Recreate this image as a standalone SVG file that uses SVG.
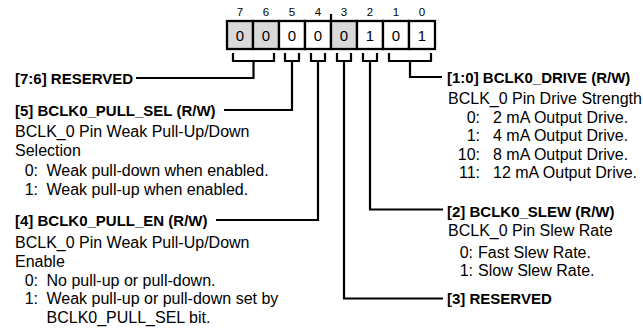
<svg xmlns="http://www.w3.org/2000/svg" width="643" height="332" viewBox="0 0 643 332">
<style>
.bn{font-family:"Liberation Sans",Arial,sans-serif;font-size:11.5px;fill:#000;text-anchor:middle}
.bv{font-family:"Liberation Sans",Arial,sans-serif;font-size:15px;fill:#000;text-anchor:middle}
.h{font-family:"Liberation Sans",Arial,sans-serif;font-size:15px;font-weight:bold;fill:#000}
.t{font-family:"Liberation Sans",Arial,sans-serif;font-size:16px;fill:#000}
.n{font-family:"Liberation Sans",Arial,sans-serif;font-size:16px;fill:#000;text-anchor:end}
.cell{stroke:#000;stroke-width:2.3}
.g{fill:#d9d9d9}
.w{fill:#fff}
.ln{fill:none;stroke:#000;stroke-width:2.2}
</style>
<rect width="643" height="332" fill="#fff"/>
<g id="register">
<text class="bn" x="240" y="15.5">7</text>
<text class="bn" x="266" y="15.5">6</text>
<text class="bn" x="292" y="15.5">5</text>
<text class="bn" x="318" y="15.5">4</text>
<text class="bn" x="344" y="15.5">3</text>
<text class="bn" x="370" y="15.5">2</text>
<text class="bn" x="396" y="15.5">1</text>
<text class="bn" x="422" y="15.5">0</text>
<rect class="cell g" x="227" y="21" width="26" height="28"/>
<rect class="cell g" x="253" y="21" width="26" height="28"/>
<rect class="cell w" x="279" y="21" width="26" height="28"/>
<rect class="cell w" x="305" y="21" width="26" height="28"/>
<rect class="cell g" x="331" y="21" width="26" height="28"/>
<rect class="cell w" x="357" y="21" width="26" height="28"/>
<rect class="cell w" x="383" y="21" width="26" height="28"/>
<rect class="cell w" x="409" y="21" width="26" height="28"/>
<line class="ln" x1="331" y1="14" x2="331" y2="21"/>
<text class="bv" x="240" y="40.5">0</text>
<text class="bv" x="266" y="40.5">0</text>
<text class="bv" x="292" y="40.5">0</text>
<text class="bv" x="318" y="40.5">0</text>
<text class="bv" x="344" y="40.5">0</text>
<text class="bv" x="370" y="40.5">1</text>
<text class="bv" x="396" y="40.5">0</text>
<text class="bv" x="422" y="40.5">1</text>
</g>
<g id="connectors">
<path class="ln" d="M233 53V61H274V53M253.5 61V78H136"/>
<path class="ln" d="M285 53V61H299V53M292 61V110H224"/>
<path class="ln" d="M311 53V61H325V53M318 61V220H216"/>
<path class="ln" d="M337 53V61H351V53M344 61V298.5H443"/>
<path class="ln" d="M363 53V61H377V53M370 61V209.5H443"/>
<path class="ln" d="M389 53V61H431V53M410 61V77H442"/>
</g>
<g id="f76">
<text class="h" x="15" y="83.5">[7:6] RESERVED</text>
</g>
<g id="f5">
<text class="h" x="15" y="115.5">[5] BCLK0_PULL_SEL (R/W)</text>
<text class="t" x="15" y="137">BCLK_0 Pin Weak Pull-Up/Down</text>
<text class="t" x="15" y="156">Selection</text>
<text class="n" x="38" y="175.5">0:</text>
<text class="t" x="46.5" y="175.5">Weak pull-down when enabled.</text>
<text class="n" x="38" y="195">1:</text>
<text class="t" x="46.5" y="195">Weak pull-up when enabled.</text>
</g>
<g id="f4">
<text class="h" x="15" y="225.5">[4] BCLK0_PULL_EN (R/W)</text>
<text class="t" x="15" y="247.5">BCLK_0 Pin Weak Pull-Up/Down</text>
<text class="t" x="15" y="267">Enable</text>
<text class="n" x="38" y="286">0:</text>
<text class="t" x="46.5" y="286">No pull-up or pull-down.</text>
<text class="n" x="38" y="304">1:</text>
<text class="t" x="46.5" y="304">Weak pull-up or pull-down set by</text>
<text class="t" x="46.5" y="322.5">BCLK0_PULL_SEL bit.</text>
</g>
<g id="f10">
<text class="h" x="447" y="82.5">[1:0] BCLK0_DRIVE (R/W)</text>
<text class="t" x="448" y="104">BCLK_0 Pin Drive Strength</text>
<text class="n" x="480" y="122.5">0:</text>
<text class="t" x="493" y="122.5">2 mA Output Drive.</text>
<text class="n" x="480" y="141">1:</text>
<text class="t" x="493" y="141">4 mA Output Drive.</text>
<text class="n" x="480" y="159.5">10:</text>
<text class="t" x="493" y="159.5">8 mA Output Drive.</text>
<text class="n" x="480" y="178">11:</text>
<text class="t" x="493" y="178">12 mA Output Drive.</text>
</g>
<g id="f2">
<text class="h" x="447" y="217">[2] BCLK0_SLEW (R/W)</text>
<text class="t" x="448" y="236">BCLK_0 Pin Slew Rate</text>
<text class="n" x="473" y="257.5">0:</text>
<text class="t" x="478" y="257.5">Fast Slew Rate.</text>
<text class="n" x="473" y="276">1:</text>
<text class="t" x="478" y="276">Slow Slew Rate.</text>
</g>
<g id="f3">
<text class="h" x="447" y="304">[3] RESERVED</text>
</g>
</svg>
